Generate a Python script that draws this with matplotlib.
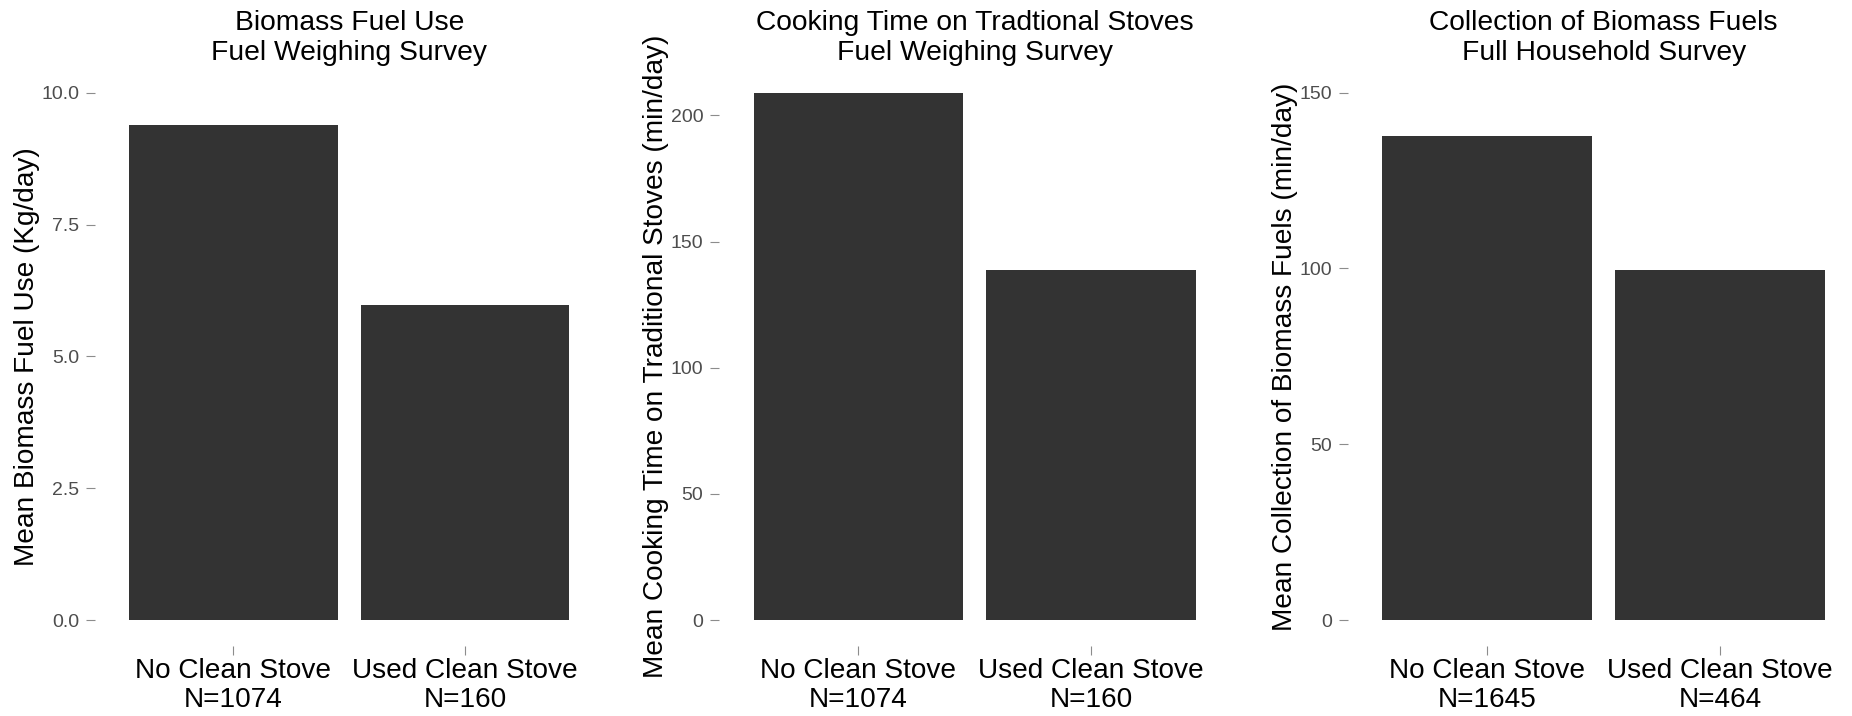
import matplotlib
matplotlib.use("Agg")
import matplotlib.pyplot as plt

plt.rcParams['font.family'] = ['Liberation Sans', 'DejaVu Sans']

# data
groups = ["No Clean Stove", "Used Clean Stove"]

fuel_use = [9.39, 5.97]          # kg/day
fuel_n = [1074, 160]

cook_time = [209.0, 138.9]       # min/day
cook_n = [1074, 160]

collect_time = [137.8, 99.5]     # min/day
collect_n = [1645, 464]

titles = [
    "Biomass Fuel Use\nFuel Weighing Survey",
    "Cooking Time on Tradtional Stoves\nFuel Weighing Survey",
    "Collection of Biomass Fuels\nFull Household Survey",
]
ylabels = [
    "Mean Biomass Fuel Use (Kg/day)",
    "Mean Cooking Time on Traditional Stoves (min/day)",
    "Mean Collection of Biomass Fuels (min/day)",
]
yticks = [
    [0, 2.5, 5, 7.5, 10],
    [0, 50, 100, 150, 200],
    [0, 50, 100, 150],
]
ytick_labels = [
    ["0.0", "2.5", "5.0", "7.5", "10.0"],
    ["0", "50", "100", "150", "200"],
    ["0", "50", "100", "150"],
]
y_top = [10.0, max(cook_time), 150.0]

values = [fuel_use, cook_time, collect_time]
counts = [fuel_n, cook_n, collect_n]

W, H = 1852, 716
fig = plt.figure(figsize=(W / 100, H / 100), dpi=100)

# panel boxes in pixels: left, width
boxes = [(94.5, 509.5), (718.6, 512.4), (1347.5, 512.4)]
bottom = (H - 646.4) / H
height = (646.4 - 66.3) / H

for i in range(3):
    left, width = boxes[i]
    ax = fig.add_axes([left / W, bottom, width / W, height])
    x = [1, 2]
    ax.bar(x, values[i], width=0.9, color='#333333', edgecolor='none')
    ax.set_xlim(0.4, 2.6)
    top = y_top[i]
    ax.set_ylim(-0.05 * top, 1.05 * top)

    ax.set_xticks(x)
    ax.set_xticklabels([f"{g}\nN={n}" for g, n in zip(groups, counts[i])],
                       fontsize=20.2, color='black', linespacing=1.15)
    ax.set_yticks(yticks[i])
    ax.set_yticklabels(ytick_labels[i], fontsize=14, color='#4D4D4D')
    ax.tick_params(axis='both', length=6.5, width=0.8, color='#8C8C8C')
    ax.tick_params(axis='y', pad=4.5)
    ax.tick_params(axis='x', pad=1.5)

    for s in ax.spines.values():
        s.set_visible(False)

    ax.set_ylabel(ylabels[i], fontsize=20.2, labelpad=1)
    ax.set_title(titles[i], fontsize=20.3, linespacing=1.2, pad=-0.5,
                 va='bottom')

fig.savefig("out.png", dpi=100)
